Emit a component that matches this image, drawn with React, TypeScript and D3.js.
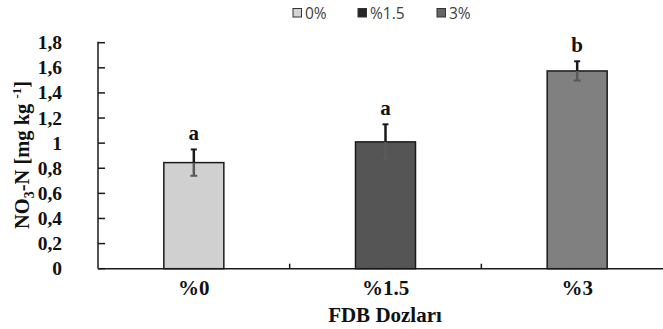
import React from 'react';
import * as d3 from 'd3';

const categories = ['%0', '%1.5', '%3'];
const values = [0.845, 1.01, 1.575];
const errors = [0.105, 0.14, 0.077];
const letters = ['a', 'a', 'b'];
const barColors = ['#d0d0d0', '#555555', '#808080'];
const legendLabels = ['0%', '%1.5', '3%'];
const legendColors = ['#d4d4d4', '#262626', '#666666'];
const yTicks = [0, 0.2, 0.4, 0.6, 0.8, 1, 1.2, 1.4, 1.6, 1.8];

export default function App() {
  const width = 663;
  const height = 329;
  const left = 98;
  const right = 673;
  const top = 42.7;
  const bottom = 268.7;

  const x = d3.scaleBand().domain(categories).range([left, right]).paddingInner(0).paddingOuter(0);
  const y = d3.scaleLinear().domain([0, 1.8]).range([bottom, top]);
  const barW = 60;
  const fmt = (v: number) => (v === 0 || v === 1 ? String(v) : d3.format('.1f')(v).replace('.', ','));
  const serif = '"Liberation Serif", "Times New Roman", serif';
  const legendX = [293, 358, 437];

  return (
    <svg width={width} height={height} style={{ position: 'absolute', left: 0, top: 0, background: '#fff' }}>
      {/* legend */}
      <g fontFamily='"Open Sans", sans-serif' fontSize={15.5} fill='#404040'>
        {legendLabels.map((d, i) => (
          <g key={d}>
            <rect x={legendX[i]} y={8.5} width={8.5} height={8.5} fill={legendColors[i]} stroke='#333' strokeWidth={1} />
            <text x={legendX[i] + 12} y={18.5}>{d}</text>
          </g>
        ))}
      </g>

      {/* bars */}
      {categories.map((c, i) => {
        const cx = (x(c) as number) + x.bandwidth() / 2;
        return (
          <rect key={c} x={cx - barW / 2} y={y(values[i])} width={barW} height={bottom - y(values[i])}
            fill={barColors[i]} stroke='#1a1a1a' strokeWidth={1.5} />
        );
      })}

      {/* error bars */}
      {categories.map((c, i) => {
        const cx = (x(c) as number) + x.bandwidth() / 2;
        const hi = y(values[i] + errors[i]);
        const lo = y(values[i] - errors[i]);
        const mid = y(values[i]);
        return (
          <g key={c}>
            <line x1={cx} x2={cx} y1={mid} y2={lo} stroke='#5a5a5a' strokeWidth={2.5} />
            <line x1={cx - 3.5} x2={cx + 3.5} y1={lo} y2={lo} stroke='#5a5a5a' strokeWidth={2} />
            <line x1={cx} x2={cx} y1={hi} y2={mid} stroke='#1a1a1a' strokeWidth={2.5} />
            <line x1={cx - 3} x2={cx + 3} y1={hi} y2={hi} stroke='#1a1a1a' strokeWidth={2} />
            <text x={cx} y={hi - 9} textAnchor='middle' fontFamily={serif} fontWeight='bold' fontSize={21} fill='#111'>
              {letters[i]}
            </text>
          </g>
        );
      })}

      {/* y axis */}
      <line x1={left} x2={left} y1={top - 1} y2={bottom} stroke='#1a1a1a' strokeWidth={1.5} />
      {yTicks.map(t => (
        <g key={t}>
          <line x1={left} x2={left + 7} y1={y(t)} y2={y(t)} stroke='#1a1a1a' strokeWidth={1.5} />
          <text x={left - 36} y={y(t) + 6.5} textAnchor='end' fontFamily={serif} fontWeight='bold' fontSize={19.5} fill='#111'>
            {fmt(t)}
          </text>
        </g>
      ))}

      {/* x axis */}
      <line x1={left} x2={width} y1={bottom} y2={bottom} stroke='#1a1a1a' strokeWidth={1.5} />
      {categories.slice(1).map(c => (
        <line key={c} x1={x(c) as number} x2={x(c) as number} y1={bottom} y2={bottom - 5} stroke='#1a1a1a' strokeWidth={1.5} />
      ))}
      {categories.map(c => (
        <text key={c} x={(x(c) as number) + x.bandwidth() / 2} y={295} textAnchor='middle' fontFamily={serif}
          fontWeight='bold' fontSize={21} fill='#111'>{c}</text>
      ))}
      <text x={385} y={322} textAnchor='middle' fontFamily={serif} fontWeight='bold' fontSize={21} fill='#111'>
        FDB Dozları
      </text>

      {/* y label */}
      <text transform='translate(29,155) rotate(-90)' textAnchor='middle' fontFamily={serif} fontWeight='bold'
        fontSize={20.5} fill='#111'>
        NO<tspan fontSize={14} dy={5}>3</tspan><tspan dy={-5}>-N [mg kg </tspan>
        <tspan fontSize={13} dy={-8}>-1</tspan><tspan dy={8}>]</tspan>
      </text>
    </svg>
  );
}
